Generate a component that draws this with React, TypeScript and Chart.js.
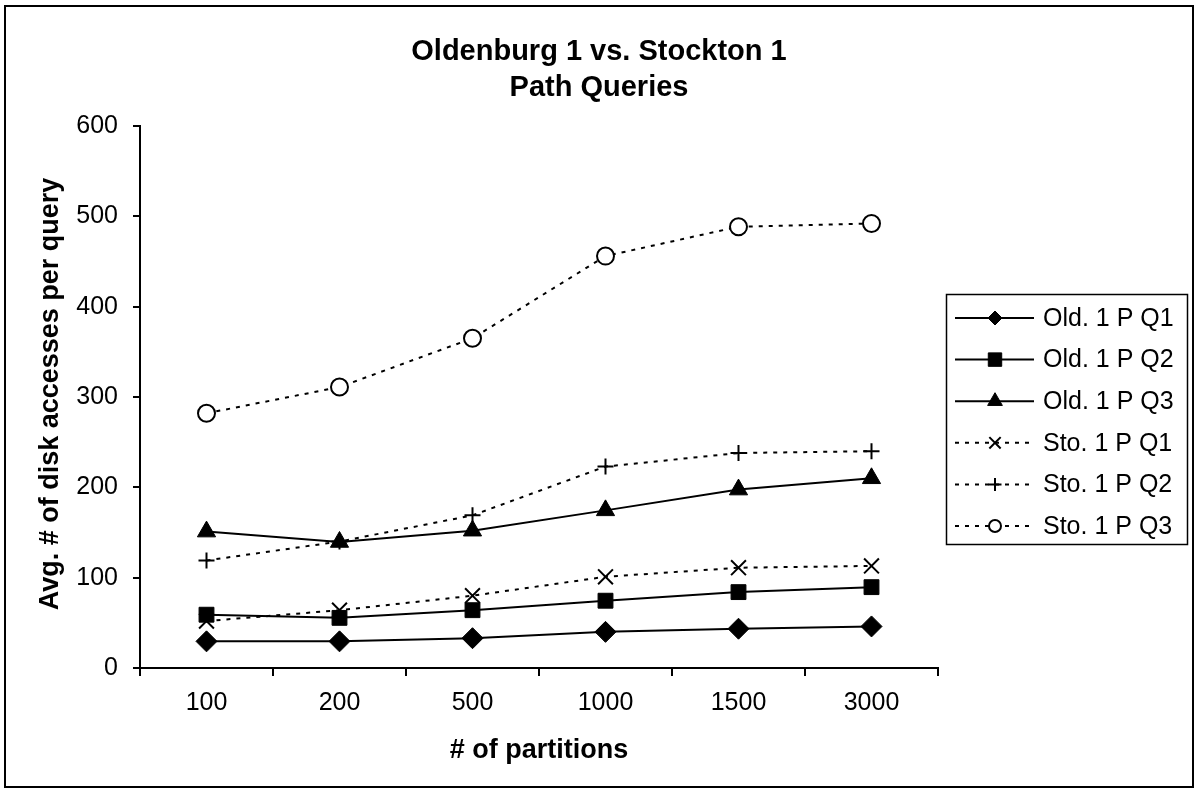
import React, { useEffect, useRef } from 'react';
import { Chart, registerables } from 'chart.js';

Chart.register(...registerables);

// ---- data ----
const categories = ['100', '200', '500', '1000', '1500', '3000'];
const oldQ1 = [29.5, 29.5, 33, 40, 43.5, 46];
const oldQ2 = [59, 55.5, 64, 74.5, 84, 89.5];
const oldQ3 = [151, 139.5, 152, 174.5, 197.5, 210];
const stoQ1 = [52, 64, 80, 101, 111, 113];
const stoQ2 = [119, 140, 169, 223, 238, 240];
const stoQ3 = [282, 311, 365, 456, 488.5, 492];
const seriesNames = ['Old. 1 P Q1', 'Old. 1 P Q2', 'Old. 1 P Q3', 'Sto. 1 P Q1', 'Sto. 1 P Q2', 'Sto. 1 P Q3'];
const titleLines = ['Oldenburg 1 vs. Stockton 1', 'Path Queries'];
const xAxisTitle = '# of partitions';
const yAxisTitle = 'Avg. # of disk accesses per query';
const yMin = 0;
const yMax = 600;
const yStep = 100;

const FONT = "'Liberation Sans', Arial, Helvetica, sans-serif";
const DOT = [4, 6];

function drawMarker(ctx: CanvasRenderingContext2D, style: string, x: number, y: number, r: number, fill: string) {
  ctx.save();
  ctx.setLineDash([]);
  ctx.beginPath();
  const q = Math.SQRT1_2 * r;
  switch (style) {
    case 'rectRot':
      ctx.moveTo(x - r, y);
      ctx.lineTo(x, y - r);
      ctx.lineTo(x + r, y);
      ctx.lineTo(x, y + r);
      ctx.closePath();
      break;
    case 'rect':
      ctx.rect(x - q, y - q, 2 * q, 2 * q);
      break;
    case 'triangle': {
      const h = r;
      ctx.moveTo(x, y - h);
      ctx.lineTo(x + 0.866 * r, y + r / 2);
      ctx.lineTo(x - 0.866 * r, y + r / 2);
      ctx.closePath();
      break;
    }
    case 'crossRot':
      ctx.moveTo(x - q, y - q);
      ctx.lineTo(x + q, y + q);
      ctx.moveTo(x + q, y - q);
      ctx.lineTo(x - q, y + q);
      break;
    case 'cross':
      ctx.moveTo(x - r, y);
      ctx.lineTo(x + r, y);
      ctx.moveTo(x, y - r);
      ctx.lineTo(x, y + r);
      break;
    case 'circle':
      ctx.arc(x, y, r, 0, Math.PI * 2);
      ctx.closePath();
      break;
  }
  if (style !== 'cross' && style !== 'crossRot') {
    ctx.fillStyle = fill;
    ctx.fill();
  }
  ctx.strokeStyle = '#000';
  ctx.lineWidth = style === 'circle' || style === 'cross' || style === 'crossRot' ? 2 : 1;
  ctx.stroke();
  ctx.restore();
}

const legendRadius: Record<string, number> = { rectRot: 7, rect: 9.5, triangle: 8.5, crossRot: 8, cross: 6.5, circle: 6 };

const decorPlugin = {
  id: 'decor',
  afterDraw(chart: any) {
    const ctx: CanvasRenderingContext2D = chart.ctx;
    ctx.save();
    // outer border
    ctx.strokeStyle = '#000';
    ctx.lineWidth = 2;
    ctx.strokeRect(5, 6, 1188, 781);

    // title
    ctx.fillStyle = '#000';
    ctx.textAlign = 'center';
    ctx.textBaseline = 'alphabetic';
    ctx.font = `bold 29px ${FONT}`;
    ctx.fillText(titleLines[0], 599, 60);
    ctx.fillText(titleLines[1], 599, 96);

    // axis titles
    ctx.font = `bold 27px ${FONT}`;
    const ca = chart.chartArea;
    ctx.fillText(xAxisTitle, (ca.left + ca.right) / 2, 758);
    ctx.save();
    ctx.translate(58, (ca.top + ca.bottom) / 2 - 3);
    ctx.rotate(-Math.PI / 2);
    ctx.fillText(yAxisTitle, 0, 0);
    ctx.restore();

    // legend
    ctx.lineWidth = 1.5;
    ctx.strokeRect(946.5, 294.5, 241, 250);
    ctx.font = `25px ${FONT}`;
    ctx.textAlign = 'left';
    ctx.textBaseline = 'middle';
    chart.data.datasets.forEach((ds: any, i: number) => {
      const y = 318 + i * 41.6;
      ctx.save();
      ctx.strokeStyle = '#000';
      ctx.lineWidth = 2;
      ctx.setLineDash(ds.borderDash || []);
      ctx.beginPath();
      ctx.moveTo(955, y);
      ctx.lineTo(1034, y);
      ctx.stroke();
      ctx.restore();
      drawMarker(ctx, ds.pointStyle, 995, y, legendRadius[ds.pointStyle] || 7, ds.pointBackgroundColor);
      ctx.fillStyle = '#000';
      ctx.fillText(ds.label, 1043, y + 1);
    });
    ctx.restore();
  },
};

export default function App() {
  const ref = useRef<HTMLCanvasElement | null>(null);

  useEffect(() => {
    document.body.style.margin = '0';
    document.body.style.overflow = 'hidden';
    const canvas = ref.current;
    if (!canvas) return;

    const mk = (label: string, data: number[], style: string, radius: number, dashed: boolean, fill: string) => ({
      label,
      data,
      borderColor: '#000',
      backgroundColor: '#000',
      borderWidth: 2,
      borderDash: dashed ? DOT : [],
      pointStyle: style,
      pointRadius: radius,
      pointHoverRadius: radius,
      pointBackgroundColor: fill,
      pointBorderColor: '#000',
      pointBorderWidth: style === 'circle' || style === 'cross' || style === 'crossRot' ? 2 : 1,
      tension: 0,
      fill: false,
    });

    const chart = new Chart(canvas, {
      type: 'line',
      data: {
        labels: categories,
        datasets: [
          mk(seriesNames[0], oldQ1, 'rectRot', 10.5, false, '#000'),
          mk(seriesNames[1], oldQ2, 'rect', 10.5, false, '#000'),
          mk(seriesNames[2], oldQ3, 'triangle', 10.5, false, '#000'),
          mk(seriesNames[3], stoQ1, 'crossRot', 10.5, true, '#000'),
          mk(seriesNames[4], stoQ2, 'cross', 8, true, '#000'),
          mk(seriesNames[5], stoQ3, 'circle', 8.5, true, '#fff'),
        ] as any,
      },
      options: {
        responsive: false,
        devicePixelRatio: 1,
        animation: false,
        layout: { padding: { top: 126, right: 259, bottom: 0, left: 0 } },
        plugins: {
          legend: { display: false },
          title: { display: false },
          tooltip: { enabled: false },
        },
        scales: {
          x: {
            type: 'category',
            offset: true,
            grid: {
              display: true,
              drawOnChartArea: false,
              drawTicks: true,
              tickLength: 8,
              color: '#000',
              lineWidth: 2,
              offset: true,
            },
            border: { display: true, color: '#000', width: 2 },
            ticks: { color: '#000', font: { family: FONT, size: 25 }, padding: 12, maxRotation: 0, autoSkip: false },
            afterFit: (s: any) => { s.height = 124; },
          },
          y: {
            type: 'linear',
            min: yMin,
            max: yMax,
            grid: {
              display: true,
              drawOnChartArea: false,
              drawTicks: true,
              tickLength: 7,
              color: '#000',
              lineWidth: 2,
            },
            border: { display: true, color: '#000', width: 2 },
            ticks: { stepSize: yStep, color: '#000', font: { family: FONT, size: 25 }, padding: 15 },
            afterFit: (s: any) => { s.width = 140; },
          },
        },
      } as any,
      plugins: [decorPlugin],
    });
    return () => chart.destroy();
  }, []);

  return <canvas ref={ref} width={1197} height={792} style={{ display: 'block' }} />;
}
